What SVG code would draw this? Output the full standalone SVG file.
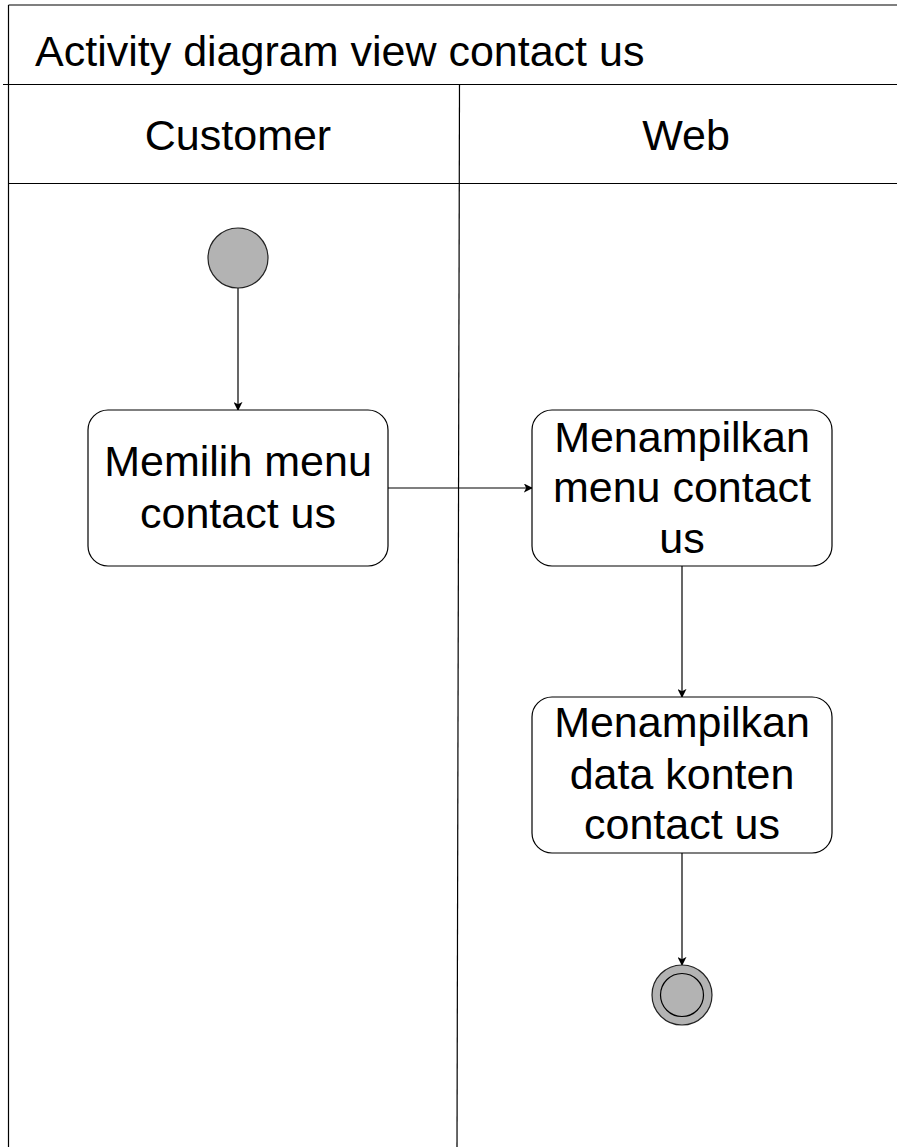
<svg xmlns="http://www.w3.org/2000/svg" width="897" height="1147" viewBox="0 0 897 1147">
<defs>
<style>
.frame{stroke:#000;stroke-width:1.2;fill:none}
.node rect{fill:#fff;stroke:#000;stroke-width:1.2}
.txt{font-family:"Liberation Sans",Arial,sans-serif;font-size:43px;fill:#000;text-anchor:middle}
.title{font-family:"Liberation Sans",Arial,sans-serif;font-size:43px;fill:#000}
.edge{stroke:#000;stroke-width:1.2;fill:none;marker-end:url(#arr)}
.start{fill:#b3b3b3;stroke:#222;stroke-width:1.2}
</style>
<marker id="arr" viewBox="0 0 10 10" refX="9" refY="5" markerWidth="9" markerHeight="9" markerUnits="userSpaceOnUse" orient="auto">
<path d="M0,0 L10,5 L0,10 L2.5,5 Z" fill="#000"/>
</marker>
</defs>
<rect width="897" height="1147" fill="#fff"/>
<g id="pool">
<line class="frame" x1="8.5" y1="5" x2="897" y2="5"/>
<line class="frame" x1="8.5" y1="5" x2="8.5" y2="1147"/>
<line class="frame" x1="3" y1="84.5" x2="897" y2="84.5"/>
<line class="frame" x1="8.5" y1="183.5" x2="897" y2="183.5"/>
<line class="frame" x1="459.5" y1="84.5" x2="457" y2="1147"/>
<text class="title" x="35" y="66">Activity diagram view contact us</text>
<text class="txt" x="238" y="150">Customer</text>
<text class="txt" x="686" y="150">Web</text>
</g>
<g id="connectors">
<line class="edge" x1="238" y1="288" x2="238" y2="410"/>
<line class="edge" x1="388" y1="488" x2="532" y2="488"/>
<line class="edge" x1="682" y1="566" x2="682" y2="697"/>
<line class="edge" x1="682" y1="853" x2="682" y2="965"/>
</g>
<g id="start">
<circle class="start" cx="238" cy="258" r="30"/>
</g>
<g id="n1" class="node">
<rect x="88" y="410" width="300" height="156" rx="20"/>
<text class="txt" x="238" y="476">Memilih menu</text>
<text class="txt" x="238" y="528">contact us</text>
</g>
<g id="n2" class="node">
<rect x="532" y="410" width="300" height="156" rx="20"/>
<text class="txt" x="682" y="452">Menampilkan</text>
<text class="txt" x="682" y="502">menu contact</text>
<text class="txt" x="682" y="553">us</text>
</g>
<g id="n3" class="node">
<rect x="532" y="697" width="300" height="156" rx="20"/>
<text class="txt" x="682" y="737">Menampilkan</text>
<text class="txt" x="682" y="789">data konten</text>
<text class="txt" x="682" y="839">contact us</text>
</g>
<g id="end">
<circle class="start" cx="682" cy="995" r="30"/>
<circle cx="682" cy="995" r="21.5" fill="none" stroke="#000" stroke-width="1.2"/>
</g>
</svg>
